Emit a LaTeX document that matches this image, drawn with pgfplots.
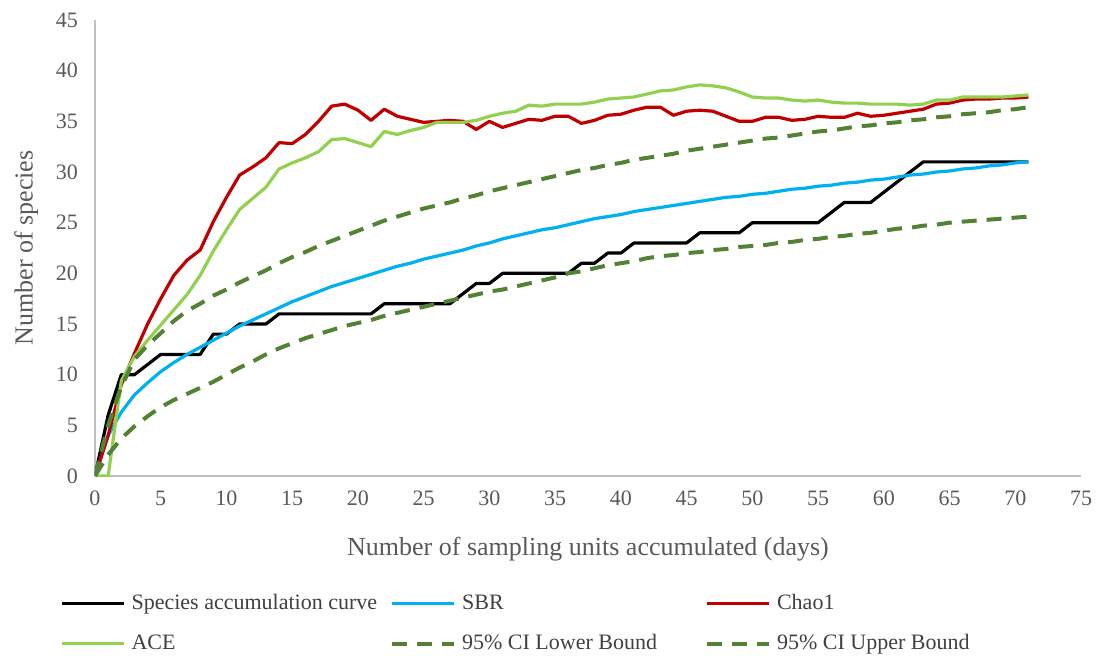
\documentclass[border=0pt]{standalone}
\usepackage{fontspec}
\setmainfont{Liberation Serif}
\usepackage{pgfplots}
\usepackage{pgfplotstable}
\pgfplotsset{compat=1.18}
\definecolor{cSAC}{HTML}{000000}
\definecolor{cSBR}{HTML}{00B0F0}
\definecolor{cCHAO}{HTML}{C00000}
\definecolor{cACE}{HTML}{92D050}
\definecolor{cCI}{HTML}{548235}
\definecolor{cTXT}{HTML}{595959}

% day, observed, SBR, Chao1, ACE, CI lower, CI upper
\pgfplotstableread{
x  sac  sbr   chao  ace   lo    up
0  0    0     0     0     0     0
1  6    4.0   4.0   0     2.1   5.0
2  10   6.3   9.0   9.4   3.7   8.8
3  10   8.0   12.1  11.8  4.9   11.5
4  11   9.2   15.0  13.4  5.9   12.9
5  12   10.3  17.5  14.9  6.8   14.1
6  12   11.2  19.8  16.4  7.5   15.3
7  12   12.0  21.3  17.9  8.1   16.3
8  12   12.7  22.3  19.8  8.7   17.0
9  14   13.4  25.1  22.2  9.3   17.8
10 14   14.1  27.5  24.3  10.0  18.4
11 15   14.8  29.7  26.3  10.7  19.1
12 15   15.4  30.5  27.4  11.3  19.7
13 15   16.0  31.4  28.5  12.0  20.3
14 16   16.6  32.9  30.3  12.6  21.0
15 16   17.2  32.8  30.9  13.1  21.6
16 16   17.7  33.7  31.4  13.6  22.1
17 16   18.2  35.0  32.0  14.0  22.7
18 16   18.7  36.5  33.2  14.4  23.2
19 16   19.1  36.7  33.3  14.8  23.7
20 16   19.5  36.1  32.9  15.1  24.2
21 16   19.9  35.1  32.5  15.4  24.7
22 17   20.3  36.2  34.0  15.8  25.2
23 17   20.7  35.5  33.7  16.1  25.6
24 17   21.0  35.2  34.1  16.4  26.0
25 17   21.4  34.9  34.4  16.7  26.4
26 17   21.7  35.0  34.9  17.0  26.7
27 17   22.0  35.1  34.9  17.3  27.0
28 18   22.3  35.0  34.9  17.6  27.4
29 19   22.7  34.2  35.1  17.9  27.7
30 19   23.0  35.0  35.5  18.2  28.1
31 20   23.4  34.4  35.8  18.4  28.4
32 20   23.7  34.8  36.0  18.7  28.7
33 20   24.0  35.2  36.6  19.0  29.0
34 20   24.3  35.1  36.5  19.3  29.3
35 20   24.5  35.5  36.7  19.6  29.6
36 20   24.8  35.5  36.7  20.0  29.9
37 21   25.1  34.8  36.7  20.2  30.2
38 21   25.4  35.1  36.9  20.5  30.4
39 22   25.6  35.6  37.2  20.8  30.7
40 22   25.8  35.7  37.3  21.0  30.9
41 23   26.1  36.1  37.4  21.2  31.2
42 23   26.3  36.4  37.7  21.5  31.4
43 23   26.5  36.4  38.0  21.7  31.6
44 23   26.7  35.6  38.1  21.8  31.8
45 23   26.9  36.0  38.4  22.0  32.1
46 24   27.1  36.1  38.6  22.1  32.3
47 24   27.3  36.0  38.5  22.3  32.5
48 24   27.5  35.5  38.3  22.4  32.7
49 24   27.6  35.0  37.9  22.6  32.9
50 25   27.8  35.0  37.4  22.7  33.1
51 25   27.9  35.4  37.3  22.8  33.3
52 25   28.1  35.4  37.3  23.0  33.4
53 25   28.3  35.1  37.1  23.1  33.6
54 25   28.4  35.2  37.0  23.3  33.8
55 25   28.6  35.5  37.1  23.4  34.0
56 26   28.7  35.4  36.9  23.6  34.1
57 27   28.9  35.4  36.8  23.7  34.3
58 27   29.0  35.8  36.8  23.9  34.5
59 27   29.2  35.5  36.7  24.0  34.6
60 28   29.3  35.6  36.7  24.2  34.8
61 29   29.5  35.8  36.7  24.4  34.9
62 30   29.7  36.0  36.6  24.5  35.1
63 31   29.8  36.2  36.7  24.7  35.2
64 31   30.0  36.7  37.1  24.8  35.4
65 31   30.1  36.8  37.1  25.0  35.5
66 31   30.3  37.1  37.4  25.1  35.7
67 31   30.4  37.2  37.4  25.2  35.8
68 31   30.6  37.2  37.4  25.3  35.9
69 31   30.7  37.3  37.4  25.4  36.1
70 31   30.9  37.3  37.5  25.5  36.2
71 31   31.0  37.4  37.6  25.6  36.4
}\species

\begin{document}
\begin{tikzpicture}
\begin{axis}[scale only axis, width=493pt, height=228pt,
  xmin=0, xmax=75, ymin=0, ymax=45,
  xtick={0,5,...,75}, ytick={0,5,...,45},
  axis x line=bottom, axis y line=left,
  axis line style={-, draw=black!25, line width=1pt},
  major tick length=0pt,
  /pgf/number format/assume math mode=true,
  tick label style={font=\fontsize{11}{13}\selectfont, text=cTXT},
  xticklabel style={yshift=-4pt},
  yticklabel style={xshift=-5pt},
  label style={font=\fontsize{13}{15}\selectfont, text=cTXT},
  xlabel={Number of sampling units accumulated (days)},
  ylabel={Number of species},
  xlabel style={yshift=-9pt},
  ylabel style={yshift=2pt},
  every axis plot/.append style={line join=round},
  legend columns=3,
  legend cell align=left,
  legend image code/.code={\draw[#1] (0pt,0pt) -- (31pt,0pt);},
  legend style={draw=none, fill=none, at={(0,0)}, anchor=north west,
    xshift=-20.5pt, yshift=-57pt, row sep=11pt,
    font=\fontsize{11}{13}\selectfont, text=black!75,
    nodes={inner xsep=3pt, inner ysep=0pt},
    /tikz/column 2/.style={column sep=3.5pt},
    /tikz/column 4/.style={column sep=21pt}},
]
\addplot[cSAC, line width=1.6pt] table[x=x, y=sac] {\species};
\addlegendentry{Species accumulation curve}
\addplot[cSBR, line width=1.6pt] table[x=x, y=sbr] {\species};
\addlegendentry{SBR}
\addplot[cCHAO, line width=1.6pt] table[x=x, y=chao] {\species};
\addlegendentry{Chao1}
\addplot[cACE, line width=1.6pt] table[x=x, y=ace] {\species};
\addlegendentry{ACE}
\addplot[cCI, line width=2pt, dash pattern=on 7.5pt off 5pt] table[x=x, y=lo] {\species};
\addlegendentry{95\% CI Lower Bound}
\addplot[cCI, line width=2pt, dash pattern=on 7.5pt off 5pt] table[x=x, y=up] {\species};
\addlegendentry{95\% CI Upper Bound}
\end{axis}
\pgfresetboundingbox
\path[use as bounding box] (-47.5pt,-89.5pt) rectangle (502.5pt,238pt);
\end{tikzpicture}
\end{document}
